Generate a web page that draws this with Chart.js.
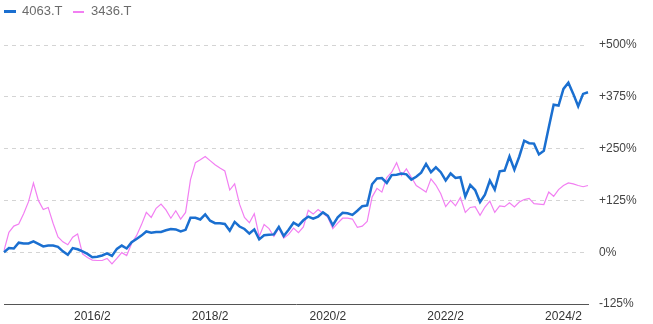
<!DOCTYPE html>
<html lang="en">
<head>
    <meta charset="UTF-8">
    <title>4063.T vs 3436.T</title>
    <script src="https://cdn.jsdelivr.net/npm/chart.js"></script>
    <style>
        body { margin: 0; background: #fff; }
        .wrap { position: relative; width: 653px; height: 324px; }
        .legend span { position: absolute; }
        .legend .txt {
            top: 3px;
            font: 13px "Liberation Sans", Arial, sans-serif;
            line-height: 16px;
            color: #6b6b6b;
        }
    </style>
</head>
<body>
    <div class="wrap">
        <canvas id="perfChart" width="653" height="324"></canvas>
        <div class="legend">
            <span style="left:4px; top:10px; width:12px; height:3px; background:#1a6fd0;"></span>
            <span class="txt" style="left:22px;">4063.T</span>
            <span style="left:73px; top:11px; width:11px; height:2px; background:#f27ff2;"></span>
            <span class="txt" style="left:91px;">3436.T</span>
        </div>
    </div>

    <script>
        // monthly points, 2014/8 .. 2024/7
        const months = [
            '2014/8', '2014/9', '2014/10', '2014/11', '2014/12',
            '2015/1', '2015/2', '2015/3', '2015/4', '2015/5', '2015/6', '2015/7', '2015/8', '2015/9', '2015/10', '2015/11', '2015/12',
            '2016/1', '2016/2', '2016/3', '2016/4', '2016/5', '2016/6', '2016/7', '2016/8', '2016/9', '2016/10', '2016/11', '2016/12',
            '2017/1', '2017/2', '2017/3', '2017/4', '2017/5', '2017/6', '2017/7', '2017/8', '2017/9', '2017/10', '2017/11', '2017/12',
            '2018/1', '2018/2', '2018/3', '2018/4', '2018/5', '2018/6', '2018/7', '2018/8', '2018/9', '2018/10', '2018/11', '2018/12',
            '2019/1', '2019/2', '2019/3', '2019/4', '2019/5', '2019/6', '2019/7', '2019/8', '2019/9', '2019/10', '2019/11', '2019/12',
            '2020/1', '2020/2', '2020/3', '2020/4', '2020/5', '2020/6', '2020/7', '2020/8', '2020/9', '2020/10', '2020/11', '2020/12',
            '2021/1', '2021/2', '2021/3', '2021/4', '2021/5', '2021/6', '2021/7', '2021/8', '2021/9', '2021/10', '2021/11', '2021/12',
            '2022/1', '2022/2', '2022/3', '2022/4', '2022/5', '2022/6', '2022/7', '2022/8', '2022/9', '2022/10', '2022/11', '2022/12',
            '2023/1', '2023/2', '2023/3', '2023/4', '2023/5', '2023/6', '2023/7', '2023/8', '2023/9', '2023/10', '2023/11', '2023/12',
            '2024/1', '2024/2', '2024/3', '2024/4', '2024/5', '2024/6', '2024/7'
        ];

        // % change from start
        const shinEtsu = [
            0, 10, 9, 23, 21, 21, 26, 20, 14, 16,
            16, 13, 2, -6, 10, 7, 2, -4, -12, -11,
            -8, -3, -9, 8, 16, 9, 24, 32, 40, 50,
            47, 49, 49, 53, 56, 55, 50, 54, 83, 83,
            79, 91, 76, 70, 70, 68, 52, 73, 62, 56,
            45, 55, 31, 41, 42, 43, 61, 39, 54, 71,
            64, 77, 86, 81, 86, 96, 88, 65, 84, 95,
            94, 90, 100, 111, 113, 164, 178, 179, 167, 186,
            187, 190, 188, 175, 182, 192, 213, 193, 205, 193,
            173, 190, 179, 181, 134, 162, 150, 121, 139, 173,
            151, 195, 197, 231, 199, 231, 269, 263, 262, 236,
            245, 301, 356, 354, 394, 409, 382, 352, 382, 386
        ];

        const sumco = [
            4, 48, 63, 68, 93, 122, 167, 125, 103, 108,
            70, 37, 25, 18, 36, 44, -4, -13, -19, -20,
            -20, -15, -28, -15, -1, -8, 21, 40, 66, 96,
            84, 106, 116, 102, 82, 100, 80, 96, 175, 216,
            223, 231, 221, 211, 203, 196, 150, 165, 116, 84,
            71, 93, 38, 67, 57, 38, 58, 34, 43, 58,
            47, 61, 101, 92, 103, 94, 84, 57, 70, 82,
            82, 80, 60, 63, 74, 133, 154, 145, 180, 193,
            216, 185, 201, 181, 161, 153, 145, 177, 162, 141,
            110, 125, 112, 132, 96, 108, 110, 89, 109, 123,
            96, 112, 110, 119, 109, 121, 127, 130, 117, 116,
            115, 145, 135, 151, 161, 167, 165, 161, 158, 161
        ];

        const xTickLabels = ['2016/2', '2018/2', '2020/2', '2022/2', '2024/2'];
        const yTicks = [-125, 0, 125, 250, 375, 500];

        const ctx = document.getElementById('perfChart').getContext('2d');

        new Chart(ctx, {
            type: 'line',
            data: {
                labels: months,
                datasets: [
                    {
                        label: '4063.T',
                        data: shinEtsu,
                        borderColor: '#1a6fd0',
                        borderWidth: 2.5,
                        pointRadius: 0,
                        tension: 0
                    },
                    {
                        label: '3436.T',
                        data: sumco,
                        borderColor: '#f27ff2',
                        borderWidth: 1.2,
                        pointRadius: 0,
                        tension: 0
                    }
                ]
            },
            options: {
                responsive: false,
                animation: false,
                layout: { padding: { top: 45, left: 4, right: 0, bottom: 0 } },
                plugins: {
                    legend: { display: false },
                    tooltip: { enabled: false }
                },
                scales: {
                    x: {
                        grid: { display: false, drawTicks: false },
                        border: { display: true, color: '#555', width: 1 },
                        ticks: {
                            autoSkip: false,
                            maxRotation: 0,
                            padding: 5,
                            color: '#333',
                            font: { family: '"Liberation Sans", Arial, sans-serif', size: 12 },
                            callback: function (val) {
                                const lab = this.getLabelForValue(val);
                                return xTickLabels.includes(lab) ? lab : null;
                            }
                        },
                        afterFit: (scale) => { scale.height = 20; }
                    },
                    y: {
                        position: 'right',
                        min: yTicks[0],
                        max: yTicks[yTicks.length - 1],
                        afterBuildTicks: (scale) => {
                            scale.ticks = yTicks.map(v => ({ value: v }));
                        },
                        grid: {
                            color: '#d4d4d4',
                            drawTicks: false
                        },
                        border: { display: false, dash: [4, 4] },
                        ticks: {
                            padding: 11,
                            color: '#444',
                            font: { family: '"Liberation Sans", Arial, sans-serif', size: 12 },
                            callback: (v) => (v > 0 ? '+' + v + '%' : v + '%')
                        },
                        afterFit: (scale) => { scale.width = 65; }
                    }
                }
            }
        });
    </script>
</body>
</html>
